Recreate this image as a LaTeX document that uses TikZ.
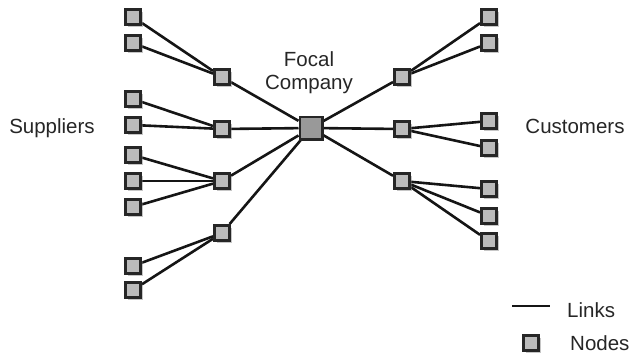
\documentclass[tikz,border=0pt]{standalone}
\usepackage{fontspec}
\setmainfont{Liberation Sans}
\usetikzlibrary{shadows,backgrounds}
\definecolor{boxfill}{HTML}{BBBBBB}
\definecolor{focalfill}{HTML}{999999}
\definecolor{boxline}{HTML}{262626}
\definecolor{linkcol}{HTML}{151515}
\definecolor{txtcol}{HTML}{262626}
\begin{document}
\begin{tikzpicture}[x=1pt,y=-1pt,
  nd/.style={rectangle, draw=boxline, fill=boxfill, line width=2.8pt,
    minimum size=15.2pt, inner sep=0pt,
    drop shadow={shadow xshift=2.2pt, shadow yshift=-2.2pt, opacity=0.45}},
  focal/.style={nd, fill=focalfill, minimum size=22.2pt},
  link/.style={draw=linkcol, line width=2.6pt},
  lbl/.style={font=\fontsize{20.5}{23}\selectfont, text=txtcol, inner sep=0pt}]
\useasboundingbox (0,0) rectangle (630,356);

% supplier leaves
\node[nd] (L1) at (133,17) {};
\node[nd] (L2) at (133,43) {};
\node[nd] (L3) at (133,99) {};
\node[nd] (L4) at (133,125) {};
\node[nd] (L5) at (133,155) {};
\node[nd] (L6) at (133,181) {};
\node[nd] (L7) at (133,207) {};
\node[nd] (L8) at (133,266) {};
\node[nd] (L9) at (133,290) {};
% tier-1 suppliers
\node[nd] (M1) at (222,77) {};
\node[nd] (M2) at (222,129) {};
\node[nd] (M3) at (222,181) {};
\node[nd] (M4) at (222,233) {};
% focal
\node[focal] (F) at (311,128) {};
% tier-1 customers
\node[nd] (R1) at (402,77) {};
\node[nd] (R2) at (402,129) {};
\node[nd] (R3) at (402,181) {};
% customer leaves
\node[nd] (C1) at (489,17) {};
\node[nd] (C2) at (489,43) {};
\node[nd] (C3) at (489,121) {};
\node[nd] (C4) at (489,148) {};
\node[nd] (C5) at (489,189) {};
\node[nd] (C6) at (489,216) {};
\node[nd] (C7) at (489,241) {};

% labels
\node[lbl, align=center] (focaltxt) at (309,73) {Focal\\Company};
\node[lbl, anchor=base] (sup) at (52,133) {Suppliers};
\node[lbl, anchor=base] (cus) at (575,133) {Customers};

% legend
\coordinate (la) at (512,306);
\coordinate (lb) at (550,306);
\node[lbl, anchor=base west] (links) at (567,317) {Links};
\node[nd] (legnd) at (531,343) {};
\node[lbl, anchor=base west] (nodes) at (570,350) {Nodes};

\begin{scope}[on background layer]
  \draw[link] (L1) -- (M1);
  \draw[link] (L2) -- (M1);
  \draw[link] (L3) -- (M2);
  \draw[link] (L4) -- (M2);
  \draw[link] (L5) -- (M3);
  \draw[link] (L6) -- (M3);
  \draw[link] (L7) -- (M3);
  \draw[link] (L8) -- (M4);
  \draw[link] (L9) -- (M4);
  \draw[link] (M1) -- (F);
  \draw[link] (M2) -- (F);
  \draw[link] (M3) -- (F);
  \draw[link] (M4) -- (F);
  \draw[link] (F) -- (R1);
  \draw[link] (F) -- (R2);
  \draw[link] (F) -- (R3);
  \draw[link] (R1) -- (C1);
  \draw[link] (R1) -- (C2);
  \draw[link] (R2) -- (C3);
  \draw[link] (R2) -- (C4);
  \draw[link] (R3) -- (C5);
  \draw[link] (R3) -- (C6);
  \draw[link] (R3) -- (C7);
  \draw[link, line width=2pt] (la) -- (lb);
\end{scope}
\end{tikzpicture}
\end{document}
